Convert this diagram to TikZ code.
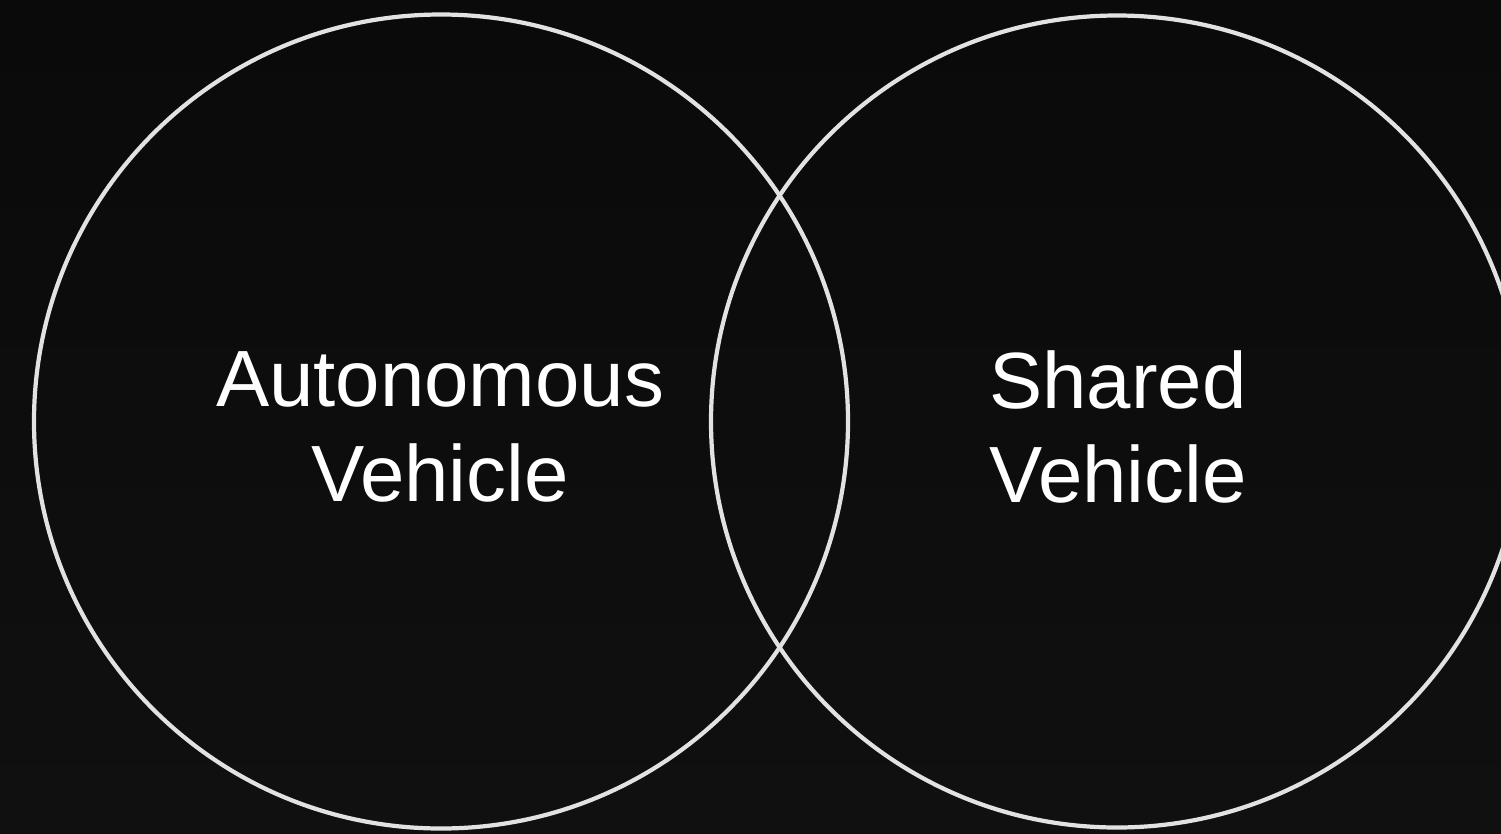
\documentclass[tikz,border=0pt]{standalone}
\usepackage{fontspec}
\setmainfont{Liberation Sans}
\definecolor{bgtop}{HTML}{0A0A0A}
\definecolor{bgbot}{HTML}{101010}
\definecolor{ring}{HTML}{E2E2E2}
\tikzset{
  setring/.style={draw=ring, line width=1.2pt},
  setlabel/.style={text=white, align=center, font=\fontsize{22.7}{26.8}\selectfont}
}
\begin{document}
\begin{tikzpicture}
    \shade[top color=bgtop, bottom color=bgbot] (0,0) rectangle (15.01,8.33);
    \useasboundingbox (0,0) rectangle (15.01,8.33);
    \draw[setring] (4.41,4.115) circle (4.07);
    \draw[setring] (11.17,4.115) circle (4.06);
    \node[setlabel] (auto) at (4.40,4.06) {Autonomous\\Vehicle};
    \node[setlabel] (shared) at (11.18,4.06) {Shared\\Vehicle};
\end{tikzpicture}
\end{document}
